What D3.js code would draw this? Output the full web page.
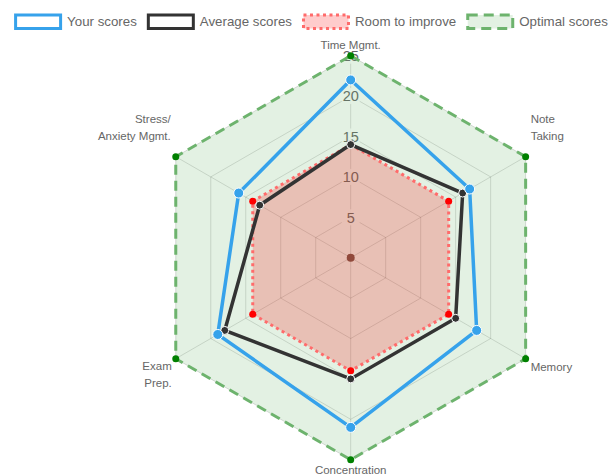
<!DOCTYPE html>
<html>
<head>
<meta charset="utf-8">
<script src="https://cdn.jsdelivr.net/npm/d3@7"></script>
<style>
  body { margin: 0; background: #fff; }
  svg { display: block; font-family: "Liberation Sans", Arial, Helvetica, sans-serif; }
</style>
</head>
<body>
<svg id="chart" width="614" height="475"></svg>
<script>
// chart data
var axisLabels = [["Time Mgmt."], ["Note", "Taking"], ["Memory"], ["Concentration"], ["Exam", "Prep."], ["Stress/", "Anxiety Mgmt."]];
var yourScores = [22, 17, 18, 21, 19, 16];
var averageScores = [14, 16, 15, 15, 18, 13];
var roomToImprove = [14, 14, 14, 14, 14, 14];
var optimalScores = [25, 25, 25, 25, 25, 25];
var tickValues = [5, 10, 15, 20, 25];
var seriesNames = ["Your scores", "Average scores", "Room to improve", "Optimal scores"];

var svg = d3.select("#chart");
var cx = 350.7, cy = 257.7;
var r = d3.scaleLinear().domain([0, 25]).range([0, 202]);
var angle = d3.scaleLinear().domain([0, axisLabels.length]).range([0, 2 * Math.PI]);

function pt(i, v) {
  var a = angle(i);
  return [cx + r(v) * Math.sin(a), cy - r(v) * Math.cos(a)];
}

// series styles (drawn bottom to top)
var series = [
  {name: seriesNames[3], data: optimalScores, fill: "rgba(102,175,102,0.18)", stroke: "#6db36d", width: 3, dash: "10,6", pr: 3.5, pfill: "#008000", pstroke: "none"},
  {name: seriesNames[2], data: roomToImprove, fill: "rgba(255,0,0,0.2)", stroke: "#ff6b6b", width: 3, dash: "3,3.5", pr: 3.5, pfill: "#ff0000", pstroke: "none"},
  {name: seriesNames[1], data: averageScores, fill: "none", stroke: "#333333", width: 3.5, dash: null, pr: 4, pfill: "#333333", pstroke: "#fff"},
  {name: seriesNames[0], data: yourScores, fill: "none", stroke: "#36a2eb", width: 3.5, dash: null, pr: 5, pfill: "#36a2eb", pstroke: "#fff"}
];

var g = svg.append("g");

// grid polygons
tickValues.forEach(function(t) {
  g.append("polygon")
    .attr("points", axisLabels.map(function(d, i) { return pt(i, t).join(","); }).join(" "))
    .attr("fill", "none")
    .attr("stroke", "rgba(0,0,0,0.14)")
    .attr("stroke-width", 1);
});

// angle lines
axisLabels.forEach(function(d, i) {
  var p = pt(i, 25);
  g.append("line")
    .attr("x1", cx).attr("y1", cy).attr("x2", p[0]).attr("y2", p[1])
    .attr("stroke", "rgba(0,0,0,0.14)")
    .attr("stroke-width", 1);
});

// tick labels with backdrop
tickValues.forEach(function(t) {
  var y = cy - r(t);
  g.append("rect")
    .attr("x", cx - 9).attr("y", y - 8).attr("width", 18).attr("height", 16)
    .attr("fill", "rgba(255,255,255,0.9)");
  g.append("text")
    .attr("x", cx).attr("y", y)
    .attr("dy", "0.36em")
    .attr("text-anchor", "middle")
    .attr("font-size", 14.5)
    .attr("fill", "#666")
    .text(t);
});

// center dot
g.append("circle").attr("cx", pt(0, 0)[0]).attr("cy", pt(0, 0)[1]).attr("r", 4).attr("fill", "#7a4a45");

// datasets
var line = d3.line().curve(d3.curveLinearClosed);
series.forEach(function(s) {
  var pts = s.data.map(function(v, i) { return pt(i, v); });
  g.append("path")
    .attr("d", line(pts))
    .attr("fill", s.fill)
    .attr("stroke", s.stroke)
    .attr("stroke-width", s.width)
    .attr("stroke-dasharray", s.dash)
    .attr("stroke-linejoin", "miter");
  g.selectAll(null).data(pts).enter().append("circle")
    .attr("cx", function(d) { return d[0]; })
    .attr("cy", function(d) { return d[1]; })
    .attr("r", s.pr)
    .attr("fill", s.pfill)
    .attr("stroke", s.pstroke)
    .attr("stroke-width", 1);
});

// point labels
var labelPos = [
  {dx: 0, dy: -11, anchor: "middle"},
  {dx: 5, dy: -38, anchor: "start"},
  {dx: 5, dy: 8.5, anchor: "start"},
  {dx: 0, dy: 10.5, anchor: "middle"},
  {dx: -4, dy: 7.5, anchor: "end"},
  {dx: -5, dy: -38, anchor: "end"}
];
axisLabels.forEach(function(lines, i) {
  var p = pt(i, 25), o = labelPos[i];
  var t = svg.append("text")
    .attr("text-anchor", o.anchor)
    .attr("font-size", 11.5)
    .attr("fill", "#666");
  lines.forEach(function(l, k) {
    t.append("tspan")
      .attr("x", p[0] + o.dx)
      .attr("y", p[1] + o.dy + k * 17)
      .attr("dy", "0.35em")
      .text(l);
  });
});

// legend
var legend = svg.append("g");
var legendSeries = series.slice().reverse();
var x = 0;
var items = legendSeries.map(function(s) {
  var it = legend.append("g").attr("transform", "translate(" + x + ",0)");
  it.append("rect")
    .attr("x", 1.5).attr("y", 15).attr("width", 45).attr("height", 13.5)
    .attr("fill", s.fill === "none" ? "#fff" : s.fill)
    .attr("stroke", s.stroke)
    .attr("stroke-width", 3)
    .attr("stroke-dasharray", s.dash);
  var tx = it.append("text")
    .attr("x", 53).attr("y", 21.5)
    .attr("dy", "0.35em")
    .attr("font-size", 13.3)
    .attr("fill", "#666")
    .text(s.name);
  x += 53 + tx.node().getComputedTextLength() + 10;
  return it;
});
var total = x - 10;
legend.attr("transform", "translate(" + (311 - total / 2) + ",0)");
</script>
</body>
</html>
